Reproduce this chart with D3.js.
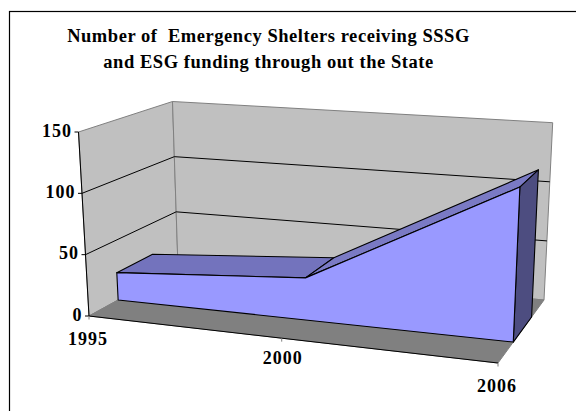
<!DOCTYPE html>
<html><head><meta charset="utf-8">
<script src="https://cdn.jsdelivr.net/npm/d3@7"></script>
<style>html,body{margin:0;padding:0;background:#fff}svg{display:block}
text{font-family:"Liberation Serif",serif;font-weight:bold;fill:#000}</style></head>
<body><svg id="c" width="576" height="411"></svg>
<script>
const titleLines = ["Number of  Emergency Shelters receiving SSSG","and ESG funding through out the State"];
const categories = ["1995","2000","2006"];
const shelters = [23, 34, 120];
const yTicks = [0, 50, 100, 150];

const W=576,H=411;
const svg=d3.select("#c");
// projection frame
const floorQ=[[89,316],[178,267],[544,300],[498,363]];   // (u,d): 00,01,11,10
const topQ=[[78.5,132],[172.5,101.5],[552.7,122.7],[506,161]];
function homog(q){ // unit square (u,d) to quad
  const [p00,p01,p11,p10]=q;
  const dx1=p10[0]-p11[0],dx2=p01[0]-p11[0],sx=p00[0]-p10[0]+p11[0]-p01[0];
  const dy1=p10[1]-p11[1],dy2=p01[1]-p11[1],sy=p00[1]-p10[1]+p11[1]-p01[1];
  const den=dx1*dy2-dx2*dy1;
  const g=(sx*dy2-dx2*sy)/den,h=(dx1*sy-sx*dy1)/den;
  const a=p10[0]-p00[0]+g*p10[0],b=p01[0]-p00[0]+h*p01[0],c=p00[0];
  const d=p10[1]-p00[1]+g*p10[1],e=p01[1]-p00[1]+h*p01[1],f=p00[1];
  return (u,v)=>{const w=g*u+h*v+1;return [(a*u+b*v+c)/w,(d*u+e*v+f)/w];};
}
const floorH=homog(floorQ),topH=homog(topQ);
const xS=d3.scalePoint().domain(categories).range([0,1]);
const warp=d3.scaleLinear().domain([0,0.5,1]).range([0,0.512,1]);
const yS=d3.scaleLinear().domain([0,150]).range([0,1]);
const depthFront=0.30,depthBack=0.70;
function P(cat,d,val){
  const u=typeof cat==="number"?cat:warp(xS(cat));
  const a=floorH(u,d),b=topH(u,d),t=yS(val);
  return [a[0]+(b[0]-a[0])*t,a[1]+(b[1]-a[1])*t];
}
const line=d3.line();
const poly=(pts,fill,stroke,sw)=>svg.append("path").attr("d",line(pts)+"Z").attr("fill",fill)
  .attr("stroke",stroke).attr("stroke-width",sw).attr("stroke-linejoin","round");
const seg=(pts,stroke,sw)=>svg.append("path").attr("d",line(pts)).attr("fill","none").attr("stroke",stroke).attr("stroke-width",sw);

// page + frame
svg.append("rect").attr("x",9.5).attr("y",11.5).attr("width",W+20).attr("height",H+20)
  .attr("fill","#fff").attr("stroke","#000").attr("stroke-width",1.2);

// title
const title=svg.append("g");
titleLines.forEach((t,i)=>title.append("text").attr("x",268.5).attr("y",41.5+i*26)
  .attr("text-anchor","middle").attr("font-size",18.5).attr("letter-spacing",0.55)
  .attr("xml:space","preserve").style("white-space","pre").text(t));

// walls
const wallGrey="#c0c0c0",edge="#808080";
poly([P(0,0,0),P(0,1,0),P(0,1,150),P(0,0,150)],wallGrey,edge,1);
poly([P(0,1,0),P(1,1,0),P(1,1,150),P(0,1,150)],wallGrey,edge,1);
// floor
poly([P(0,0,0),P(0,1,0),P(1,1,0),P(1,0,0)],"#808080","#808080",1);
// gridlines
yTicks.filter(v=>v>0&&v<150).forEach(v=>{
  seg([P(0,0,v),P(0,1,v),P(1,1,v)],"#000",1);
});
// front axis edges
seg([P(0,0,0),P(0,0,150)],"#000",1);
seg([P(0,0,0),P(1,0,0)],"#000",1.1);
yTicks.forEach(v=>{
  const p=P(0,0,v);
  seg([[p[0]-4,p[1]],p],"#000",1);
  svg.append("text").attr("x",p[0]-6.5).attr("y",p[1]+4.7).attr("text-anchor","end")
    .attr("font-size",18).attr("letter-spacing",1).text(v);
});
const xLabelDy=[29,26,28.5];
const xLabelDx=[-1,1,-1];
categories.forEach((c,i)=>{
  const p=P(c,0,0);
  seg([p,[p[0],p[1]+3.5]],"#808080",1);
  svg.append("text").attr("x",p[0]+xLabelDx[i]).attr("y",p[1]+xLabelDy[i]).attr("text-anchor","middle")
    .attr("font-size",18).attr("letter-spacing",1).text(c);
});

// area
const front=categories.map((c,i)=>P(c,depthFront,shelters[i]));
const back=categories.map((c,i)=>P(c,depthBack,shelters[i]));
const sFill="#000",lw=1.1;
poly([front[0],back[0],back[1],front[1]],"#7373bd",sFill,lw);
poly([front[1],back[1],back[2],front[2]],"#7a7ac4",sFill,lw);
const lastCat=categories[categories.length-1];
poly([front[2],back[2],P(lastCat,depthBack,0),P(lastCat,depthFront,0)],"#4d4d80",sFill,lw);
poly([...front,P(lastCat,depthFront,0),P(categories[0],depthFront,0)],"#9999ff",sFill,lw);
</script></body></html>
